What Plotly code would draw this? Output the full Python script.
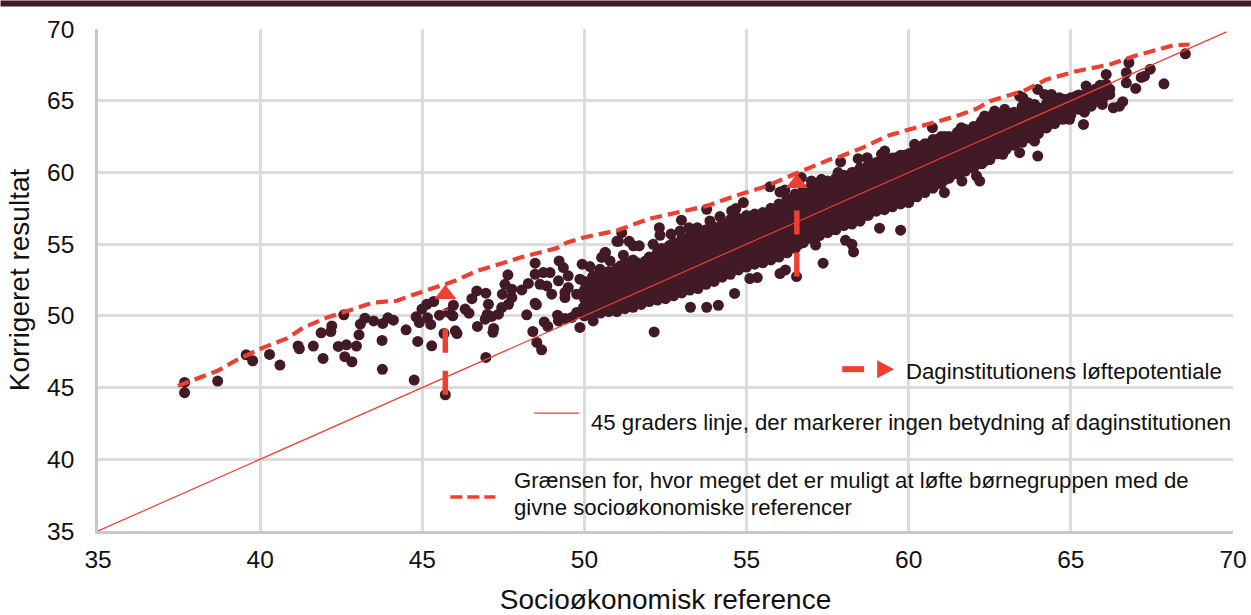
import plotly.graph_objects as go

DARK = "#421A26"
RED = "#EC4032"
GRID = "#DCDCDC"
AXIS = "#C8C8C8"
TEXT = "#111111"
FONT = "Liberation Sans"

# scattered daycare institutions
outlier_x = [37.67,37.67,38.69,39.57,39.77,40.29,40.61,41.17,41.21,41.64,41.94,41.88,42.21,42.18,42.58,42.41,42.66,42.97,42.61,42.83,
43.05,43.09,43.23,43.5,43.78,43.94,44.11,43.76,43.77,44.5,44.86,44.75,45.29,44.81,44.91,45.16,45.26,44.99,45.14,45.35,
45.53,45.81,45.96,45.94,45.67,46.07,46.02,45.71,46.96,46.7,47.2,47.18,46.32,46.44,46.53,46.68,46.96,47.47,47.55,47.64,
47.0,46.94,47.04,47.14,47.35,47.45,47.66,47.76,47.76,48.07,48.27,48.22,48.48,48.52,48.48,48.48,48.73,48.94,49.22,49.35,
49.5,48.63,48.84,48.99,49.2,49.4,49.4,49.5,48.41,48.53,48.68,48.76,48.87,49.17,49.2,49.4,49.86,49.61,49.76,49.97,
50.27,50.17,49.76,49.86,49.93,50.17,50.27,50.53,50.65,50.48,50.79,51.0,51.15,51.05,51.38,51.51,51.69,52.31,52.33,52.67,
52.99,52.95,53.22,53.48,53.77,53.87,54.18,54.54,54.67,54.9,55.72,56.03,56.18,56.69,52.12,51.2,50.63,
52.15,53.27,53.77,54.13,54.63,55.1,55.33,56.03,56.2,56.54,57.13,57.36,58.05,58.25,58.3,59.1,59.75,61.1,61.64,62.09,62.19,
62.34,62.5,62.9,63.42,63.88,63.98,57.0,57.31,57.9,57.82,58.44,58.72,58.34,59.16,59.26,59.62,60.18,60.23,
60.73,61.62,62.34,62.65,62.96,63.16,62.19,62.03,63.42,63.52,63.68,63.88,63.98,64.19,64.4,64.65,64.86,65.17,65.53,65.9,66.09,66.2,66.2,
66.0,65.68,65.63,65.47,64.96,65.39,65.42,65.97,66.31,66.5,66.6,66.09,66.71,66.71,66.79,67.0,67.17,67.27,67.45,67.87,68.53]
outlier_y = [45.36,44.64,45.45,47.28,46.87,47.31,46.57,47.9,47.7,47.89,47.03,48.82,49.3,48.91,50.07,47.87,47.98,47.89,47.15,46.8,
48.68,49.42,49.84,49.65,49.47,49.86,49.7,48.29,46.27,49.03,48.22,45.52,47.91,49.93,49.53,49.86,49.4,50.47,50.81,51.0,
50.05,50.24,50.74,50.0,48.77,48.77,48.96,44.5,47.1,49.26,49.12,48.85,50.47,50.19,51.2,51.74,51.58,51.51,52.2,52.86,
50.1,49.77,50.81,49.96,50.12,50.58,50.81,51.86,51.28,51.81,52.26,50.07,50.88,50.78,53.67,52.9,53.02,53.02,53.83,53.37,
52.79,52.2,52.09,51.51,52.44,51.63,51.28,51.98,48.91,48.15,47.63,49.58,49.26,50.05,49.65,49.82,49.19,49.89,50.24,50.59,
49.65,50.35,51.51,52.56,53.6,53.44,52.79,54.07,54.41,53.25,53.83,55.2,55.8,55.2,55.2,54.88,54.88,56.15,55.62,55.7,
56.67,55.92,56.15,56.15,57.43,56.62,56.92,57.31,57.48,57.9,59.0,58.63,58.77,59.64,54.99,54.23,54.41,
48.88,50.6,50.6,50.74,51.56,52.6,52.67,52.95,53.2,52.74,54.94,53.67,55.27,54.99,54.46,56.11,55.97,58.6,59.4,59.75,59.4,
60.79,60.91,61.26,61.38,62.19,61.14,59.4,59.52,60.73,59.99,60.96,61.03,59.99,61.26,61.49,61.03,61.96,61.14,
63.12,63.12,63.93,64.28,64.4,64.05,63.35,63.0,65.32,65.2,64.86,64.74,65.79,65.44,65.44,65.2,65.09,65.32,65.56,66.07,66.14,65.8,65.44,
65.44,65.09,64.62,66.02,63.7,63.35,64.2,64.74,64.51,64.62,64.93,66.83,66.95,66.25,67.65,65.86,66.62,66.71,67.2,66.18,68.27]

# the overlapping mass of institutions, read column by column
band_x = [50.0,50.25,50.5,50.75,51.0,51.25,51.5,51.75,52.0,52.25,52.5,52.75,53.0,53.25,53.5,53.75,54.0,54.25,54.5,54.75,
55.0,55.25,55.5,55.75,56.0,56.25,56.5,56.75,57.0,57.25,57.5,57.75,58.0,58.25,58.5,58.75,59.0,59.25,59.5,59.75,
60.0,60.25,60.5,60.75,61.0,61.25,61.5,61.75,62.0,62.25,62.5,62.75,63.0,63.25,63.5,63.75,64.0,64.25,64.5,64.75,
65.0,65.25,65.5,65.75,66.0]
band_y = [
[50.0,50.6,51.2,51.8,52.4],[50.1,50.7,51.4,52.0,52.7],[50.2,50.9,51.5,52.2,52.9],[50.3,51.0,51.7,52.4,53.1],
[50.3,50.9,51.5,52.1,52.7,53.3],[50.5,51.2,51.8,52.5,53.2,53.7],[50.6,51.3,52.0,52.6,53.3,53.9],[50.8,51.4,52.0,52.7,53.4],
[51.0,51.6,52.2,52.8,53.4,54.1],[51.1,51.8,52.5,53.1,53.7,54.4],[51.2,51.9,52.6,53.2,53.9,54.7],[51.4,52.0,52.7,53.4,54.0,54.6,55.1],
[51.6,52.2,52.9,53.6,54.2,54.9,55.4],[51.8,52.4,53.1,53.8,54.4,55.0,55.6],[51.9,52.6,53.3,53.9,54.6,55.2,55.8],[52.2,52.8,53.5,54.1,54.8,55.4,56.0],
[52.4,53.0,53.7,54.4,55.0,55.6,56.2],[52.7,53.3,53.9,54.6,55.2,55.9,56.4],[52.9,53.5,54.2,54.8,55.4,56.1,56.7],[53.2,53.8,54.4,55.0,55.7,56.3,56.8],
[53.4,54.0,54.6,55.3,55.9,56.5,57.0],[53.6,54.2,54.9,55.5,56.1,56.7,57.1],[53.7,54.4,55.1,55.7,56.3,56.9,57.2],[53.9,54.6,55.3,55.9,56.5,57.1,57.5],
[54.1,54.8,55.4,56.1,56.7,57.3,57.8],[54.4,55.0,55.7,56.3,57.0,57.6,58.2],[54.7,55.3,55.9,56.6,57.2,57.9,58.5],[55.1,55.7,56.3,56.9,57.5,58.1,58.8],
[55.4,56.0,56.6,57.2,57.8,58.4,59.1],[55.6,56.2,56.8,57.4,58.0,58.7,59.3],[55.8,56.4,57.0,57.6,58.3,58.9,59.4],[56.0,56.7,57.3,57.9,58.5,59.1,59.6],
[56.3,56.9,57.5,58.2,58.8,59.4,59.8],[56.4,57.1,57.8,58.4,59.0,59.6,60.0],[56.6,57.3,58.0,58.6,59.2,59.8,60.3],[57.0,57.6,58.2,58.9,59.5,60.1,60.5],
[57.3,57.9,58.5,59.1,59.7,60.3,60.7],[57.4,58.1,58.7,59.4,60.0,60.5,60.9],[57.6,58.3,58.9,59.6,60.2,60.7,61.0],[57.8,58.5,59.2,59.8,60.4,61.0,61.2],
[57.9,58.6,59.3,60.0,60.6,61.3],[58.3,59.0,59.6,60.3,60.9,61.6],[58.6,59.3,59.9,60.5,61.1,61.7,62.0],[58.9,59.5,60.1,60.8,61.4,62.0,62.3],
[59.2,59.8,60.4,61.0,61.6,62.2,62.5],[59.6,60.2,60.8,61.3,61.9,62.5],[59.9,60.4,61.0,61.6,62.2,62.8],[60.1,60.7,61.3,61.9,62.5,63.0],
[60.3,60.9,61.5,62.1,62.7,63.2],[60.6,61.2,61.8,62.4,63.0,63.6],[60.9,61.5,62.1,62.7,63.3,63.9],[61.3,61.9,62.5,63.1,63.7,64.0],
[61.6,62.2,62.8,63.4,64.1],[61.9,62.5,63.1,63.7,64.2],[62.1,62.7,63.3,63.9,64.6],[62.4,63.0,63.6,64.2,64.7],
[62.7,63.3,63.9,64.5],[63.1,63.7,64.3,64.8],[63.4,64.0,64.6,65.0],[63.7,64.3,64.9,65.1],
[64.0,64.6,65.2],[64.4,65.0,65.4],[64.7,65.2,65.6],[65.0,65.5,65.8],[65.2,65.7,66.0]]

# a second pass over the same mass, read between the columns above
fill_x = [50.12,50.37,50.62,50.87,51.12,51.37,51.62,51.87,52.12,52.37,52.62,52.87,53.12,53.37,53.62,53.87,54.12,54.37,54.62,54.87,
55.12,55.37,55.62,55.87,56.12,56.37,56.62,56.87,57.12,57.37,57.62,57.87,58.12,58.37,58.62,58.87,59.12,59.37,59.62,59.87,
60.12,60.37,60.62,60.87,61.12,61.37,61.62,61.87,62.12,62.37,62.62,62.87,63.12,63.37,63.62,63.87,64.12,64.37,64.62,64.87]
fill_y = [
[50.4,51.0,51.7,52.3],[50.5,51.1,51.8,52.5],[50.6,51.2,51.9,52.6],[50.6,51.3,52.0,52.8],
[50.7,51.4,52.1,52.9,53.5],[50.9,51.5,52.2,52.9,53.6],[51.0,51.7,52.3,53.0,53.7],[51.2,51.8,52.4,53.1,53.8],
[51.3,52.0,52.6,53.2,53.9],[51.5,52.2,52.8,53.5,54.1,54.7],[51.6,52.3,53.0,53.6,54.3,54.9],[51.7,52.4,53.1,53.8,54.3,54.9],
[51.9,52.5,53.2,53.9,54.6,55.2],[52.1,52.8,53.5,54.1,54.7,55.4],[52.4,53.0,53.7,54.3,54.9,55.6],[52.5,53.2,53.8,54.5,55.1,55.7],
[52.8,53.4,54.0,54.7,55.3,55.9],[53.0,53.6,54.3,54.9,55.5,56.2],[53.3,53.9,54.5,55.2,55.8,56.4],[53.6,54.2,54.8,55.4,56.0,56.6],
[53.8,54.4,55.0,55.6,56.2,56.8],[54.0,54.6,55.2,55.8,56.4,57.0],[54.1,54.8,55.4,56.0,56.6,57.1],[54.3,54.9,55.6,56.2,56.8,57.4],
[54.5,55.1,55.8,56.4,57.0,57.6],[54.8,55.4,56.0,56.6,57.3,57.9],[55.0,55.6,56.2,56.9,57.5,58.2],[55.4,56.0,56.6,57.2,57.8,58.5],
[55.7,56.3,56.9,57.5,58.1,58.7],[55.9,56.5,57.1,57.7,58.3,59.0],[56.1,56.7,57.3,57.9,58.6,59.2],[56.4,57.0,57.6,58.2,58.8,59.4],
[56.6,57.2,57.8,58.5,59.1,59.7],[56.8,57.4,58.1,58.7,59.3,59.9],[57.0,57.6,58.3,58.9,59.5,60.1],[57.3,57.9,58.5,59.2,59.8,60.3],
[57.6,58.2,58.8,59.4,60.0,60.6],[57.8,58.4,59.0,59.7,60.3,60.8],[58.0,58.6,59.3,59.9,60.5,61.0],[58.2,58.9,59.5,60.1,60.7,61.2],
[58.4,59.1,59.7,60.3,60.9,61.4],[58.7,59.3,59.9,60.6,61.2,61.8],[59.0,59.6,60.2,60.8,61.4,62.0],[59.3,59.9,60.5,61.1,61.7,62.3],
[59.5,60.1,60.7,61.3,61.9,62.5],[59.9,60.5,61.1,61.7,62.3],[60.2,60.8,61.4,62.0,62.6],[60.4,61.0,61.6,62.2,62.8],
[60.7,61.3,61.9,62.5,63.1],[61.0,61.6,62.2,62.8,63.4],[61.3,61.9,62.5,63.1,63.7],[61.6,62.2,62.8,63.4,63.9],
[61.9,62.5,63.1,63.7,64.1],[62.2,62.8,63.4,64.0],[62.5,63.1,63.7,64.3],[62.8,63.4,64.0,64.5],
[63.1,63.7,64.3],[63.5,64.1,64.7],[63.8,64.4,64.9],[64.1,64.7]]

frontier_x = [37.46,38.69,39.29,40.11,40.83,41.34,42.06,42.68,43.5,44.22,44.63,46.01,46.68,47.71,48.02,49.15,49.45,49.97,51.0,52.02,
53.77,54.79,55.62,56.54,57.57,57.87,58.59,59.31,60.44,61.47,62.09,62.5,63.53,64.25,65.17,66.2,67.01,68.14,68.66]
frontier_y = [45.12,46.17,46.94,47.8,48.43,49.19,49.88,50.35,50.93,51.05,51.4,52.44,53.13,53.83,54.07,54.72,55.1,55.46,55.95,56.78,
57.66,58.47,59.05,59.94,60.91,61.1,61.73,62.53,63.23,63.93,64.44,64.97,65.67,66.48,67.06,67.53,68.15,68.85,68.92]

ref_line = [35, 69.8]
lift_x = [45.71, 56.55]
lift_from = [44.5, 52.74]
lift_to = [50.5, 58.4]
head_y = [51.5, 59.25]
ticks = [35, 40, 45, 50, 55, 60, 65, 70]

legend_lift = "Daginstitutionens løftepotentiale"
legend_ref = "45 graders linje, der markerer ingen betydning af daginstitutionen"
legend_frontier = ["Grænsen for, hvor meget det er muligt at løfte børnegruppen med de", "givne socioøkonomiske referencer"]

W, H = 1251, 615
L, R, T, B = 97.5, 18, 28.5, 84
pw, ph = W - L - R, H - T - B
def px(x): return (x - L) / pw
def py(y): return 1 - (y - T) / ph

all_x = list(outlier_x)
all_y = list(outlier_y)
for xs, yss in ((band_x, band_y), (fill_x, fill_y)):
    for x, ys in zip(xs, yss):
        all_x += [x] * len(ys)
        all_y += ys

fig = go.Figure()
fig.add_trace(go.Scatter(x=all_x, y=all_y, mode="markers", marker=dict(size=11, color=DARK, line=dict(width=0)), hoverinfo="skip"))
fig.add_trace(go.Scatter(x=ref_line, y=ref_line, mode="lines", line=dict(color=RED, width=1.2), hoverinfo="skip"))
fig.add_trace(go.Scatter(x=frontier_x, y=frontier_y, mode="lines", line=dict(color=RED, width=4.2, dash="12px,6px"), hoverinfo="skip"))
for i in range(2):
    fig.add_trace(go.Scatter(x=[lift_x[i]] * 2, y=[lift_from[i], lift_to[i]], mode="lines", line=dict(color=RED, width=5.5, dash="24px,18px"), hoverinfo="skip"))
fig.add_trace(go.Scatter(x=lift_x, y=head_y, mode="markers", marker=dict(symbol="triangle-up", size=19, color=RED, line=dict(width=0)), hoverinfo="skip"))

shapes = [
    dict(type="rect", xref="paper", yref="paper", x0=px(0), x1=px(W), y0=py(0), y1=py(6), fillcolor=DARK, line=dict(width=0), layer="above"),
    dict(type="line", xref="paper", yref="paper", x0=px(842), x1=px(864), y0=py(369), y1=py(369), line=dict(color=RED, width=6)),
    dict(type="path", xref="paper", yref="paper", path=f"M{px(877)},{py(360)} L{px(894)},{py(369)} L{px(877)},{py(378)} Z", fillcolor=RED, line=dict(width=0)),
    dict(type="line", xref="paper", yref="paper", x0=px(534), x1=px(579), y0=py(413), y1=py(413), line=dict(color=RED, width=1.2)),
    dict(type="line", xref="paper", yref="paper", x0=px(450), x1=px(495), y0=py(497), y1=py(497), line=dict(color=RED, width=3.6, dash="12px,5px")),
]
tf = dict(family=FONT, size=22.2, color=TEXT)
def note(x, y, s):
    return dict(xref="paper", yref="paper", x=px(x), y=py(y), text=s, showarrow=False, xanchor="left", yanchor="middle", font=tf, align="left", xshift=-2)
anns = [note(906, 371, legend_lift), note(591, 422, legend_ref), note(514, 480, legend_frontier[0]), note(514, 507, legend_frontier[1])]

axis = dict(range=[35, 70], tickmode="array", tickvals=ticks, ticktext=[str(t) for t in ticks], showgrid=True, gridcolor=GRID, gridwidth=2.5,
            zeroline=False, showline=True, linecolor=AXIS, linewidth=2.5, ticks="", tickfont=dict(family=FONT, size=24.5, color=TEXT), automargin=False)
fig.update_layout(
    width=W, height=H, autosize=False, margin=dict(l=L, r=R, t=T, b=B), paper_bgcolor="white", plot_bgcolor="white", showlegend=False,
    shapes=shapes, annotations=anns,
    xaxis=dict(axis, title=dict(text="Socioøkonomisk reference", font=dict(family=FONT, size=28, color=TEXT), standoff=26), ticklabelstandoff=5),
    yaxis=dict(axis, title=dict(text="Korrigeret resultat", font=dict(family=FONT, size=28, color=TEXT), standoff=10), ticklabelstandoff=16),
)
fig.write_html("out.html", config=dict(displayModeBar=False), post_script="document.body.style.margin='0';document.documentElement.style.overflow='hidden';")
